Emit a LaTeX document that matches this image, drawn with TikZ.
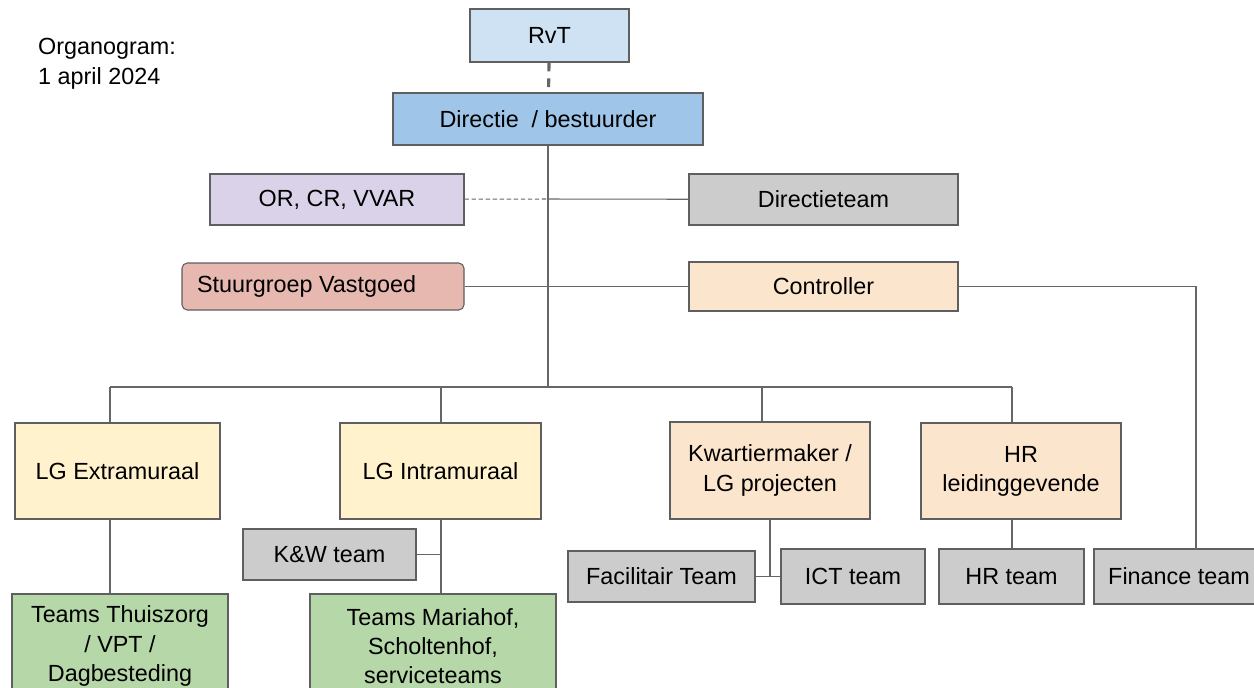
\documentclass[tikz,border=0pt]{standalone}
\usepackage{fontspec}
\setmainfont{Liberation Sans}
\definecolor{boxline}{HTML}{5F5F5F}
\definecolor{conn}{HTML}{666666}
\definecolor{rvtblue}{HTML}{CFE2F3}
\definecolor{dirblue}{HTML}{9FC5E8}
\definecolor{lila}{HTML}{D9D2E9}
\definecolor{grijs}{HTML}{CCCCCC}
\definecolor{roze}{HTML}{E6B8AF}
\definecolor{perzik}{HTML}{FCE5CD}
\definecolor{geel}{HTML}{FFF2CC}
\definecolor{groen}{HTML}{B6D7A8}
\tikzset{
  box/.style={draw=boxline,line width=0.6pt,inner sep=0pt,align=center,
    font=\fontsize{13.3}{16.6}\selectfont},
  sz/.style 2 args={minimum width=#1*0.02cm,minimum height=#2*0.02cm},
  lijn/.style={draw=conn,line width=0.6pt}
}
\begin{document}
\begin{tikzpicture}[x=0.02cm,y=-0.02cm]
  \useasboundingbox (0,0) rectangle (1254,687);
  \clip (0,0) rectangle (1254,687);
  \node[anchor=west,align=left,font=\fontsize{13.3}{17}\selectfont] (titel) at (32,64) {Organogram:\\1 april 2024};
  \node[box,fill=rvtblue,sz={159}{53}] (rvt) at (549.5,35.5) {RvT};
  \node[box,fill=dirblue,sz={310}{52}] (dir) at (548,119) {Directie \ / bestuurder};
  \node[box,fill=lila,sz={254}{51}] (orcr) at (337,199.5) {OR, CR, VVAR};
  \node[box,fill=grijs,sz={269}{51}] (dteam) at (823.5,199.5) {Directieteam};
  \node[box,fill=roze,sz={282}{47},rounded corners=3pt] (stuur) at (323,286.5) {\makebox[5.04cm][l]{Stuurgroep Vastgoed}};
  \node[box,fill=perzik,sz={269}{49}] (ctrl) at (823.5,286.5) {Controller};
  \node[box,fill=geel,sz={205}{96}] (extra) at (117.5,471) {LG Extramuraal};
  \node[box,fill=geel,sz={201}{96}] (intra) at (440.5,471) {LG Intramuraal};
  \node[box,fill=perzik,sz={200}{97}] (kwart) at (770,470.5) {Kwartiermaker /\\LG projecten};
  \node[box,fill=perzik,sz={200}{96}] (hrl) at (1021,471) {HR\\leidinggevende};
  \node[box,fill=grijs,sz={173}{51}] (kw) at (329.5,554.5) {K\&W team};
  \node[box,fill=groen,sz={216}{104}] (thuis) at (120,646) {Teams Thuiszorg\\/ VPT /\\Dagbesteding};
  \node[box,fill=groen,sz={246}{104}] (maria) at (433,646) {Teams Mariahof,\\Scholtenhof,\\serviceteams};
  \node[box,fill=grijs,sz={187}{51}] (fac) at (661.5,576.5) {Facilitair Team};
  \node[box,fill=grijs,sz={144}{55}] (ict) at (853,576.5) {ICT team};
  \node[box,fill=grijs,sz={145}{55}] (hrt) at (1011.5,576.5) {HR team};
  \node[box,fill=grijs,sz={170}{55}] (fin) at (1179,576.5) {Finance team};
  \coordinate (midden) at (548,199);
  \coordinate (bus) at (548,387);
  \coordinate (bw) at (110,387);
  \coordinate (bi) at (441,387);
  \coordinate (bk) at (762,387);
  \coordinate (be) at (1012,387);
  \coordinate (finin) at (1196,549.5);
  \draw[conn,line width=1.8pt,dash pattern=on 5pt off 4pt] (rvt) -- (dir);
  \draw[lijn] (dir) -- (bus);
  \draw[lijn,dash pattern=on 2.5pt off 1.5pt] (orcr) -- (midden);
  \draw[lijn] (midden) -- (dteam);
  \draw[lijn] (stuur) -- (ctrl);
  \draw[lijn] (ctrl.east) -| (finin);
  \draw[lijn] (bw) -- (be);
  \draw[lijn] (bw) -- (bw |- extra.north);
  \draw[lijn] (bi) -- (bi |- intra.north);
  \draw[lijn] (bk) -- (bk |- kwart.north);
  \draw[lijn] (be) -- (be |- hrl.north);
  \draw[lijn] (bw |- extra.south) -- (bw |- thuis.north);
  \draw[lijn] (bi |- intra.south) -- (bi |- maria.north);
  \draw[lijn] (kw) -- (bi |- kw.east);
  \draw[lijn] (fac) -- (ict);
  \draw[lijn] (kwart.south) -- (kwart.south |- fac.east);
  \draw[lijn] (hrt.north -| be) -- (be |- hrl.south);
\end{tikzpicture}
\end{document}
